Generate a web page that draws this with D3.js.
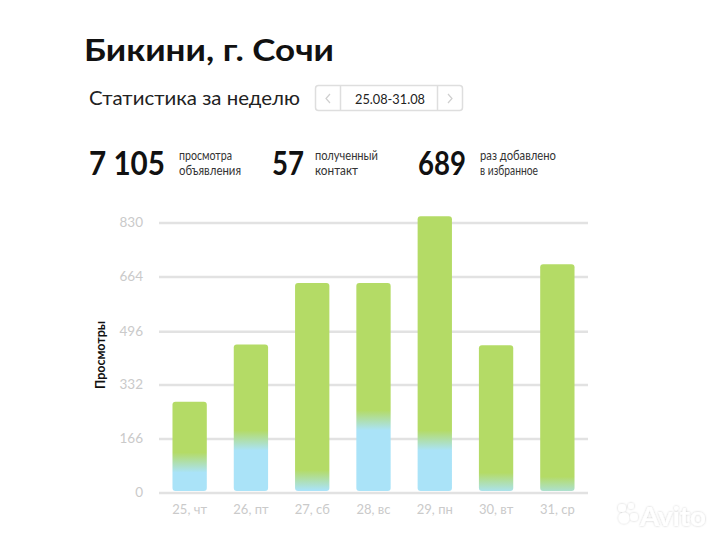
<!DOCTYPE html>
<html><head><meta charset="utf-8">
<script src="https://cdn.jsdelivr.net/npm/d3@7"></script>
<style>
html,body{margin:0;padding:0;background:#fff;}
svg{display:block;font-family:Lato,"Open Sans","Noto Sans",sans-serif;}
</style></head>
<body><div id="chart"></div>
<script>
// ---- data ----
const categories = ["25, чт","26, пт","27, сб","28, вс","29, пн","30, вт","31, ср"];
const totalViews = [279, 455, 644, 644, 849, 453, 702];
const blueViews  = [92, 160, 38, 222, 160, 30, 18];
const yTicks = [0, 166, 332, 496, 664, 830];
const statNumbers = ["7 105", "57", "689"];
const statLabels = [["просмотра","объявления"],["полученный","контакт"],["раз добавлено","в избранное"]];
const titleText = "Бикини, г. Сочи";
const subtitleText = "Статистика за неделю";
const periodText = "25.08-31.08";
const yLabel = "Просмотры";

const W = 720, H = 540;
const svg = d3.select("#chart").append("svg").attr("width", W).attr("height", H);
svg.append("rect").attr("width", W).attr("height", H).attr("fill", "#ffffff");
const defs = svg.append("defs");

// ---- header ----
svg.append("text").attr("x", 84).attr("y", 61).attr("font-size", 31).attr("font-weight", 700)
  .attr("fill", "#111").attr("textLength", 250).attr("lengthAdjust", "spacingAndGlyphs").text(titleText);
svg.append("text").attr("x", 89).attr("y", 105).attr("font-size", 20)
  .attr("fill", "#222").attr("textLength", 211).attr("lengthAdjust", "spacingAndGlyphs").text(subtitleText);

// period selector
const box = svg.append("g");
box.append("rect").attr("x", 315.5).attr("y", 85.5).attr("width", 147).attr("height", 25).attr("rx", 3)
  .attr("fill", "#fff").attr("stroke", "#dedede").attr("stroke-width", 1.5);
box.append("line").attr("x1", 340.5).attr("x2", 340.5).attr("y1", 86).attr("y2", 110).attr("stroke", "#dedede").attr("stroke-width", 1.5);
box.append("line").attr("x1", 437.5).attr("x2", 437.5).attr("y1", 86).attr("y2", 110).attr("stroke", "#dedede").attr("stroke-width", 1.5);
box.append("path").attr("d", "M330,94 L326,98.5 L330,103").attr("fill", "none").attr("stroke", "#cfcfcf").attr("stroke-width", 1.2);
box.append("path").attr("d", "M448,94 L452,98.5 L448,103").attr("fill", "none").attr("stroke", "#cfcfcf").attr("stroke-width", 1.2);
box.append("text").attr("x", 355).attr("y", 103.5).attr("font-size", 14).attr("fill", "#222")
  .attr("textLength", 70).attr("lengthAdjust", "spacingAndGlyphs").text(periodText);

// stats
const statNumX = [89, 272, 418], statNumW = [76, 32, 48];
const statLblX = [179, 315, 480], statLblW = [[53, 62], [63, 43], [76, 58]];
statNumbers.forEach((s, i) => {
  svg.append("text").attr("x", statNumX[i]).attr("y", 175).attr("font-size", 32).attr("font-weight", 700)
    .attr("fill", "#111").attr("textLength", statNumW[i]).attr("lengthAdjust", "spacingAndGlyphs").text(s);
  statLabels[i].forEach((l, j) => {
    svg.append("text").attr("x", statLblX[i]).attr("y", 160 + j * 15).attr("font-size", 12.5)
      .attr("fill", "#333").attr("textLength", statLblW[i][j]).attr("lengthAdjust", "spacingAndGlyphs").text(l);
  });
});

// ---- chart ----
const x0 = 159, x1 = 588, yBottom = 492.5, yTop = 222.5;
const x = d3.scaleBand().domain(categories).range([x0, x1]).paddingInner(0.44).paddingOuter(0.22);
const y = d3.scaleLinear().domain([0, 830]).range([yBottom, yTop]);

// gridlines
const grid = svg.append("g").attr("transform", `translate(${x0},0)`)
  .call(d3.axisLeft(y).tickValues(yTicks).tickSize(-(x1 - x0)).tickFormat(""));
grid.select(".domain").remove();
grid.selectAll(".tick line").attr("stroke", "#e2e2e2").attr("stroke-width", 2.5);

// y tick labels
const yax = svg.append("g").attr("transform", `translate(143,0)`)
  .call(d3.axisLeft(y).tickValues(yTicks).tickSize(0).tickPadding(0));
yax.select(".domain").remove();
yax.selectAll(".tick text").attr("font-size", 13.5).attr("fill", "#cacaca")
  .attr("font-family", "Lato,'Open Sans',sans-serif");

// gradients per bar
categories.forEach((c, i) => {
  const yb = y(blueViews[i]);
  const g = defs.append("linearGradient").attr("id", "grad" + i)
    .attr("gradientUnits", "userSpaceOnUse").attr("x1", 0).attr("x2", 0)
    .attr("y1", yb + 10).attr("y2", yb - 10);
  g.append("stop").attr("offset", 0).attr("stop-color", "#aae3f8");
  g.append("stop").attr("offset", 1).attr("stop-color", "#b4db66");
});

svg.append("g").selectAll("rect").data(categories).join("rect")
  .attr("x", d => x(d)).attr("width", x.bandwidth())
  .attr("y", (d, i) => y(totalViews[i]))
  .attr("height", (d, i) => yBottom - 1.5 - y(totalViews[i]))
  .attr("rx", 3).attr("ry", 3)
  .attr("fill", (d, i) => `url(#grad${i})`);

// x labels
const xax = svg.append("g").attr("transform", `translate(0,${yBottom + 8})`)
  .call(d3.axisBottom(x).tickSize(0).tickPadding(0));
xax.select(".domain").remove();
xax.selectAll(".tick text").attr("font-size", 13).attr("fill", "#cacaca").attr("dy", "1em")
  .attr("font-family", "Lato,'Open Sans',sans-serif");

// y label
svg.append("text").attr("transform", "translate(105,355) rotate(-90)").attr("text-anchor", "middle")
  .attr("font-size", 12.5).attr("font-weight", 700).attr("fill", "#111")
  .attr("textLength", 68).attr("lengthAdjust", "spacingAndGlyphs").text(yLabel);

// watermark
const f = defs.append("filter").attr("id", "wmShadow").attr("x", "-20%").attr("y", "-20%").attr("width", "140%").attr("height", "140%");
f.append("feDropShadow").attr("dx", 0).attr("dy", 0).attr("stdDeviation", 1.2)
  .attr("flood-color", "#000").attr("flood-opacity", 0.22);
const wm = svg.append("g").attr("filter", "url(#wmShadow)");
[[622, 508, 4], [631, 506, 3], [624, 518, 5.5], [634, 517, 4]].forEach(c => {
  wm.append("circle").attr("cx", c[0]).attr("cy", c[1]).attr("r", c[2]).attr("fill", "#fff");
});
wm.append("text").attr("x", 640).attr("y", 526).attr("font-size", 27).attr("font-weight", 700)
  .attr("fill", "#fff")
  .attr("textLength", 66).attr("lengthAdjust", "spacingAndGlyphs").text("Avito");
</script></body></html>
